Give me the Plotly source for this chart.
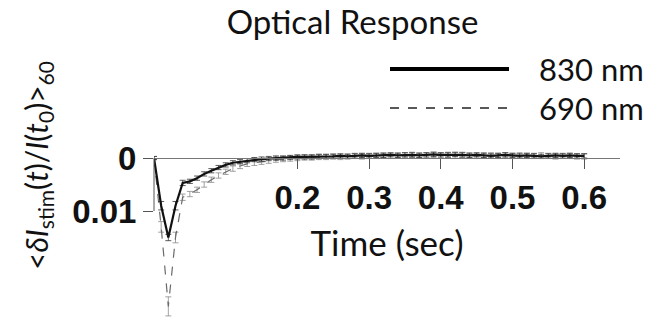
import plotly.graph_objects as go

# ---- data ----
time_s = [round(0.01 * i, 2) for i in range(61)]

resp_830 = [0.0000, 0.0090, 0.0150, 0.0090, 0.0047, 0.0044, 0.0038, 0.0030, 0.0024, 0.0018,
            0.0013, 0.0009, 0.0007, 0.0005, 0.0003, 0.0002, 0.0001, 0.0000, 0.0000, -0.0001,
            -0.0002, -0.0002, -0.0002, -0.0003, -0.0003, -0.0003, -0.0004, -0.0003, -0.0004, -0.0005,
            -0.0004, -0.0005, -0.0005, -0.0006, -0.0005, -0.0006, -0.0006, -0.0005, -0.0006, -0.0007,
            -0.0006, -0.0006, -0.0007, -0.0006, -0.0005, -0.0006, -0.0005, -0.0004, -0.0005, -0.0006,
            -0.0005, -0.0004, -0.0005, -0.0004, -0.0003, -0.0004, -0.0005, -0.0004, -0.0005, -0.0004,
            -0.0004]
err_830 = [0.0003, 0.0008, 0.0006, 0.0008, 0.0005] + [0.0004] * 56

resp_690 = [0.0000, 0.0130, 0.0280, 0.0150, 0.0074, 0.0068, 0.0060, 0.0050, 0.0041, 0.0033,
            0.0026, 0.0020, 0.0015, 0.0011, 0.0009, 0.0007, 0.0005, 0.0003, 0.0002, 0.0001,
            0.0000, -0.0001, -0.0001, -0.0002, -0.0002, -0.0003, -0.0002, -0.0003, -0.0004, -0.0003,
            -0.0004, -0.0004, -0.0005, -0.0004, -0.0005, -0.0005, -0.0006, -0.0005, -0.0005, -0.0006,
            -0.0005, -0.0006, -0.0005, -0.0006, -0.0005, -0.0004, -0.0005, -0.0005, -0.0004, -0.0005,
            -0.0004, -0.0005, -0.0004, -0.0004, -0.0005, -0.0004, -0.0003, -0.0004, -0.0004, -0.0003,
            -0.0003]
err_690 = [0.0003, 0.0010, 0.0018, 0.0010, 0.0006] + [0.0005] * 56

x_tick_vals = [0.2, 0.3, 0.4, 0.5, 0.6]
x_tick_text = ["0.2", "0.3", "0.4", "0.5", "0.6"]
y_tick_vals = [0, 0.01]
y_tick_text = ["0", "0.01"]
legend_labels = ["830 nm", "690 nm"]

W, H = 666, 330
ML, MR, MT, MB = 154, 46, 140, 2
plot_w = W - ML - MR
plot_h = H - MT - MB
Y_TOP, Y_BOT = -0.0034, 0.03208
zero_frac = (Y_BOT - 0) / (Y_BOT - Y_TOP)

fig = go.Figure()
fig.add_trace(go.Scatter(
    x=time_s, y=resp_690, mode="lines", name=legend_labels[1],
    line=dict(color="#6a6a6a", width=1.2, dash="dash"),
    error_y=dict(type="data", array=err_690, color="#8a8a8a", thickness=0.8, width=3),
    showlegend=False))
fig.add_trace(go.Scatter(
    x=time_s, y=resp_830, mode="lines", name=legend_labels[0],
    line=dict(color="#111111", width=2.2),
    error_y=dict(type="data", array=err_830, color="#333333", thickness=0.8, width=3),
    showlegend=False))

tick_font = dict(family="Liberation Sans, Arial", size=33, color="#111111", weight="bold")
label_font = dict(family="Lato", size=35, color="#111111")

fig.update_layout(
    width=W, height=H,
    margin=dict(l=ML, r=MR, t=MT, b=MB, pad=0),
    paper_bgcolor="white", plot_bgcolor="white",
    title=dict(text="Optical Response", x=352.5 / W, xref="container", xanchor="center",
               y=1 - 22 / H, yref="container", yanchor="middle",
               font=dict(family="Lato", size=33, color="#111111")),
    xaxis=dict(range=[0, 0.65], anchor="free", position=zero_frac,
               showline=True, linecolor="#777777", linewidth=1.2,
               ticks="outside", ticklen=10, tickwidth=1, tickcolor="#555555",
               tickvals=x_tick_vals, ticktext=x_tick_text, tickfont=tick_font,
               ticklabelstandoff=0,
               showgrid=False, zeroline=False,
               title=dict(text="Time (sec)", font=label_font, standoff=16)),
    yaxis=dict(range=[Y_BOT, Y_TOP], showline=False,
               ticks="outside", ticklen=10, tickwidth=1, tickcolor="#555555",
               tickvals=y_tick_vals, ticktext=y_tick_text, tickfont=tick_font,
               showgrid=False, zeroline=False),
)

# y axis title as rotated annotation (positioned higher than plot centre like the reference)
fig.add_annotation(xref="paper", yref="paper", x=(38 - ML) / plot_w, y=(H - MB - 166) / plot_h,
                   xanchor="center", yanchor="middle", textangle=-90, showarrow=False,
                   text="&lt;<i>δI</i><sub>stim</sub>(<i>t</i>)/<i>I</i>(<i>t</i><sub>0</sub>)&gt;<sub>60</sub>",
                   font=dict(family="Lato", size=30, color="#111111"))

# y axis line from 0 to 0.01 only
fig.add_shape(type="line", xref="paper", yref="y", x0=0, x1=0, y0=y_tick_vals[0], y1=y_tick_vals[1],
              line=dict(color="#555555", width=1))

# manual legend
lx0, lx1 = (390 - ML) / plot_w, (509 - ML) / plot_w
for i, (lab, dash, wid, col) in enumerate([(legend_labels[0], "solid", 4, "#000000"),
                                           (legend_labels[1], "dash", 1.5, "#222222")]):
    py = 69 + i * 39
    yf = (H - MB - py) / plot_h
    fig.add_shape(type="line", xref="paper", yref="paper", x0=lx0, x1=lx1, y0=yf, y1=yf,
                  line=dict(color=col, width=wid, dash=dash))
    fig.add_annotation(xref="paper", yref="paper", x=(537 - ML) / plot_w, y=yf,
                       xanchor="left", yanchor="middle", text=lab, showarrow=False,
                       font=dict(family="Lato", size=31, color="#111111"))

fig.write_html("out.html")
